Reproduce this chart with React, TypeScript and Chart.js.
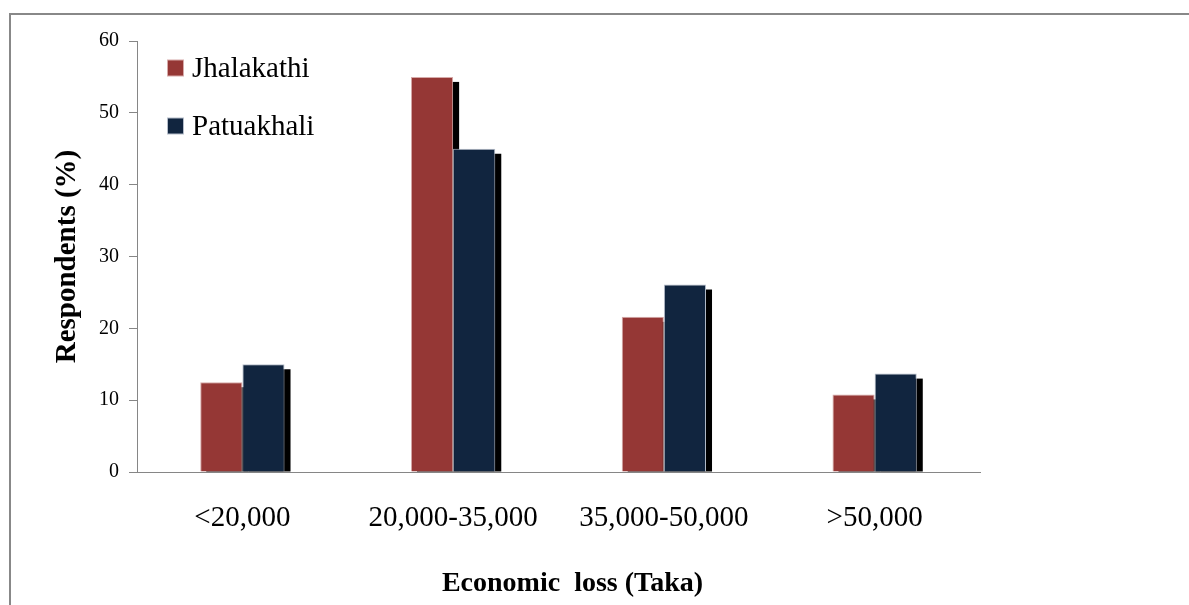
import React, { useEffect, useRef } from "react";
import { Chart, registerables } from "chart.js";

Chart.register(...registerables);

const categories = ["<20,000", "20,000-35,000", "35,000-50,000", ">50,000"];
const jhalakathi = [12.5, 55, 21.6, 10.8];
const patuakhali = [15, 45, 26.1, 13.7];
const yTicks = [0, 10, 20, 30, 40, 50, 60];

const FONT = "'Liberation Serif', 'Times New Roman', serif";

const shadowPlugin = {
  id: "barShadow",
  beforeDatasetsDraw(chart: any) {
    const ctx = chart.ctx;
    ctx.save();
    ctx.fillStyle = "#000000";
    chart.data.datasets.forEach((_: any, i: number) => {
      const meta = chart.getDatasetMeta(i);
      if (meta.hidden) return;
      meta.data.forEach((el: any) => {
        const { x, y, base, width } = el.getProps(["x", "y", "base", "width"], true);
        const top = y + 5;
        if (base - top > 0) ctx.fillRect(x - width / 2 + 6, top, width, base - top);
      });
    });
    ctx.restore();
  },
};

const legendPlugin = {
  id: "insideLegend",
  afterDraw(chart: any) {
    const ctx = chart.ctx;
    const left = chart.chartArea.left + 30;
    const startY = chart.chartArea.top + 27;
    const gap = 58;
    ctx.save();
    chart.data.datasets.forEach((ds: any, i: number) => {
      const cy = startY + i * gap;
      ctx.fillStyle = ds.borderColor;
      ctx.fillRect(left, cy - 8.5, 17, 17);
      ctx.fillStyle = ds.backgroundColor;
      ctx.fillRect(left + 1, cy - 7.5, 15, 15);
      ctx.fillStyle = "#000000";
      ctx.font = `29px ${FONT}`;
      ctx.textBaseline = "middle";
      ctx.textAlign = "left";
      ctx.fillText(ds.label, left + 25, cy + 1);
    });
    ctx.restore();
  },
};

export default function App() {
  const canvasRef = useRef<HTMLCanvasElement | null>(null);

  useEffect(() => {
    if (!canvasRef.current) return;
    const chart = new Chart(canvasRef.current, {
      type: "bar",
      data: {
        labels: categories,
        datasets: [
          {
            label: "Jhalakathi",
            data: jhalakathi,
            backgroundColor: "#953735",
            borderColor: "#d6aaa9",
            borderWidth: 1,
          },
          {
            label: "Patuakhali",
            data: patuakhali,
            backgroundColor: "#11253f",
            borderColor: "#b5bdca",
            borderWidth: 1,
          },
        ],
      },
      options: {
        responsive: false,
        animation: false,
        devicePixelRatio: 1,
        datasets: { bar: { categoryPercentage: 0.4, barPercentage: 1.0 } },
        layout: { padding: { left: 40, top: 41, right: 209, bottom: 0 } },
        plugins: {
          legend: { display: false },
          tooltip: { enabled: false },
        },
        scales: {
          x: {
            grid: { display: false, drawTicks: false },
            border: { display: true, color: "#868686", width: 1 },
            ticks: {
              color: "#000000",
              font: { family: FONT, size: 29 },
              padding: 29,
              maxRotation: 0,
              autoSkip: false,
            },
            title: {
              display: true,
              text: "    Economic  loss (Taka)",
              color: "#000000",
              font: { family: FONT, size: 28, weight: "bold" },
              padding: { top: 0, bottom: 4 },
            },
            afterFit(axis: any) {
              axis.height = 133;
            },
          },
          y: {
            min: 0,
            max: 60,
            afterBuildTicks(axis: any) {
              axis.ticks = yTicks.map((v) => ({ value: v }));
            },
            grid: {
              display: true,
              drawOnChartArea: false,
              drawTicks: true,
              tickLength: 8,
              color: "#868686",
            },
            border: { display: true, color: "#868686", width: 1 },
            ticks: {
              color: "#000000",
              font: { family: FONT, size: 20 },
              padding: 10,
            },
            title: {
              display: true,
              text: "Respondents (%)",
              color: "#000000",
              font: { family: FONT, size: 29, weight: "bold" },
              padding: { top: 10, bottom: 0 },
            },
            afterFit(axis: any) {
              axis.width = 97;
            },
          },
        },
      },
      plugins: [shadowPlugin, legendPlugin],
    });
    return () => chart.destroy();
  }, []);

  return (
    <div
      style={{
        position: "fixed",
        left: 0,
        top: 0,
        width: 1189,
        height: 605,
        background: "#ffffff",
        overflow: "hidden",
      }}
    >
      <div
        style={{
          position: "absolute",
          left: 9,
          top: 13,
          width: 1200,
          height: 620,
          borderTop: "2px solid #888888",
          borderLeft: "2px solid #888888",
        }}
      />
      <canvas
        ref={canvasRef}
        width={1189}
        height={605}
        style={{ position: "absolute", left: 0, top: 0, width: 1189, height: 605 }}
      />
    </div>
  );
}
